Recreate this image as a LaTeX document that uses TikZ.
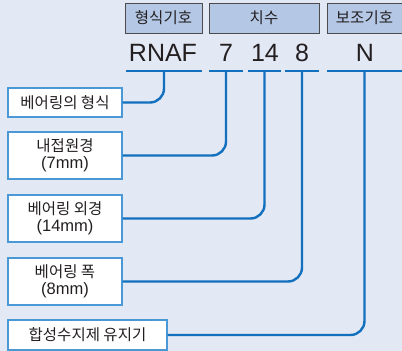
\documentclass[tikz,border=0pt]{standalone}
\usepackage{fontspec}
\setmainfont{Liberation Sans}
\newfontfamily\kr{Noto Sans CJK KR}
\newcommand\mmtext[1]{{\normalfont\fontsize{16.5}{18}\selectfont #1}}
\definecolor{bgblue}{HTML}{E2E8F4}
\definecolor{headfill}{HTML}{B4C8E6}
\definecolor{linkblue}{HTML}{1270BE}
\definecolor{boxblue}{HTML}{4A98D6}
\definecolor{ink}{HTML}{231F20}

\begin{document}
\begin{tikzpicture}
[x=1pt,y=-1pt,every node/.style={text=ink,inner sep=0pt},
 head/.style={draw=black!70,line width=0.9pt,fill=headfill,minimum height=30pt,font=\kr\fontsize{15.5}{17}\selectfont},
 code/.style={font=\fontsize{25}{28}\selectfont},
 bar/.style={fill=linkblue,minimum height=2.6pt},
 label/.style={draw=boxblue,line width=1.2pt,fill=white,minimum width=114pt,align=center,font=\kr\fontsize{15.5}{17}\selectfont},
 link/.style={draw=linkblue,line width=2.4pt,rounded corners=14pt}]
\fill[bgblue] (0,0) rectangle (402,351);
\useasboundingbox (0,0) rectangle (402,351);
\node[head,minimum width=77pt] (h1) at (163.5,18) {형식기호};
\node[head,minimum width=110pt] (h2) at (264,18) {치수};
\node[head,minimum width=75pt] (h3) at (364.5,18) {보조기호};
\node[code] (c1) at (163,53) {RNAF};
\node[code] (c2) at (226,53) {7};
\node[code] (c3) at (265,53) {14};
\node[code] (c4) at (302,53) {8};
\node[code] (c5) at (365,53) {N};
\node[bar,minimum width=76pt] (b1) at (164,71) {};
\node[bar,minimum width=34pt] (b2) at (226,71) {};
\node[bar,minimum width=33pt] (b3) at (264.5,71) {};
\node[bar,minimum width=34pt] (b4) at (302,71) {};
\node[bar,minimum width=75pt] (b5) at (364.5,71) {};
\node[label,minimum height=29pt] (l1) at (65,102.5) {베어링의 형식};
\node[label,minimum height=47pt] (l2) at (65,155.5) {내접원경\\[0pt]\mmtext{(7mm)}};
\node[label,minimum height=47pt] (l3) at (65,218.5) {베어링 외경\\[0pt]\mmtext{(14mm)}};
\node[label,minimum height=47pt] (l4) at (65,281.5) {베어링 폭\\[0pt]\mmtext{(8mm)}};
\node[label,minimum width=159pt,minimum height=30pt] (l5) at (87.5,335) {합성수지제 유지기};
\foreach \from/\to in {l1/b1,l2/b2,l3/b3,l4/b4,l5/b5}
\draw[link] (\from.east) -| (\to.center);
\end{tikzpicture}
\end{document}
